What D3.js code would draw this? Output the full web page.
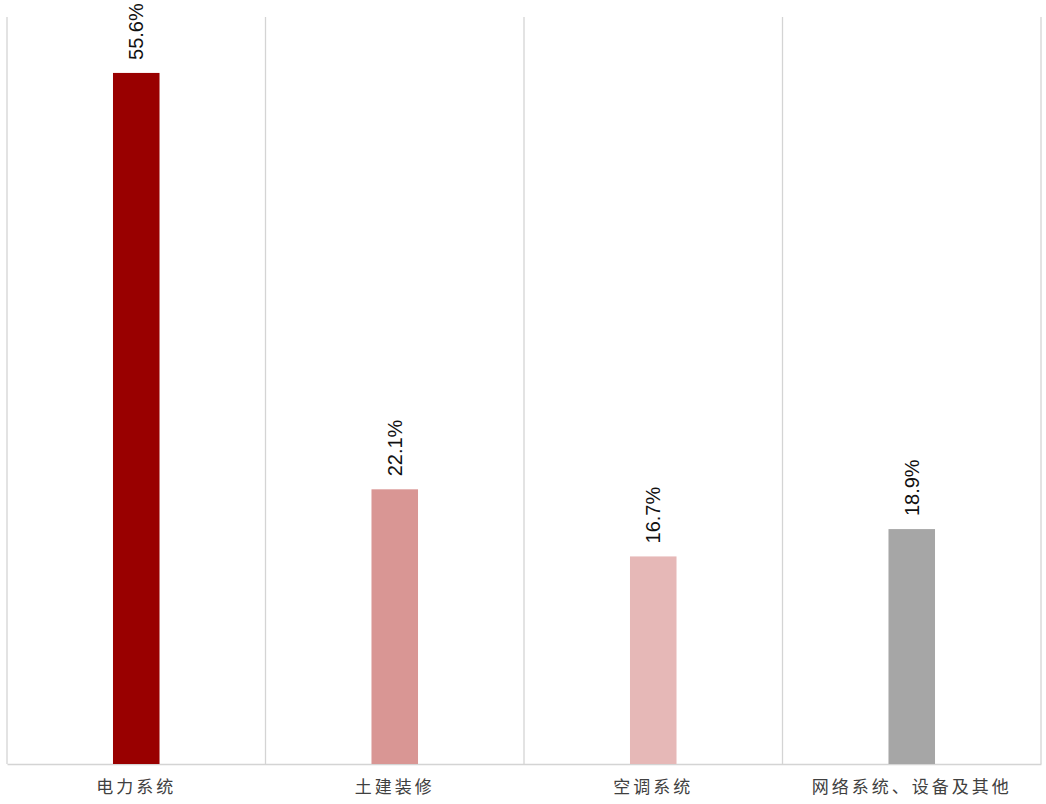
<!DOCTYPE html>
<html>
<head>
<meta charset="utf-8">
<script src="https://cdn.jsdelivr.net/npm/d3@7"></script>
<style>
  body { margin: 0; background: #fff; }
</style>
</head>
<body>
<svg id="mainsvg" width="1046" height="804"></svg>
<script>
const categories = ['电力系统', '土建装修', '空调系统', '网络系统、设备及其他'];
const values = [55.6, 22.1, 16.7, 18.9];
const colors = ['#990000', '#d99694', '#e6b8b7', '#a6a6a6'];

const data = categories.map((c, i) => ({ name: c, value: values[i], color: colors[i] }));

const svg = d3.select('#mainsvg');
const margin = { top: 17, right: 5, bottom: 40, left: 7 };
const width = +svg.attr('width');
const height = +svg.attr('height');
const innerWidth = width - margin.left - margin.right;
const innerHeight = height - margin.top - margin.bottom;

const g = svg.append('g')
  .attr('transform', `translate(${margin.left}, ${margin.top})`);

const xScale = d3.scaleBand()
  .domain(categories)
  .range([0, innerWidth])
  .paddingInner(0.82)
  .paddingOuter(0.41);

const yScale = d3.scaleLinear()
  .domain([0, 60.1])
  .range([innerHeight, 0]);

// vertical separators between categories
const step = innerWidth / categories.length;
g.selectAll('.sep')
  .data(d3.range(categories.length + 1))
  .enter().append('line')
  .attr('class', 'sep')
  .attr('x1', d => d * step)
  .attr('x2', d => d * step)
  .attr('y1', 0)
  .attr('y2', innerHeight)
  .attr('stroke', '#d4d4d4')
  .attr('stroke-width', 1.3);

// bottom axis
const xAxis = d3.axisBottom(xScale).tickSize(0).tickPadding(17);
const axisG = g.append('g')
  .attr('transform', `translate(0, ${innerHeight})`)
  .call(xAxis);
axisG.select('.domain').attr('stroke', '#d4d4d4').attr('stroke-width', 1.3);
axisG.selectAll('text')
  .attr('font-family', '"Noto Sans CJK SC", sans-serif')
  .attr('font-size', 17)
  .attr('letter-spacing', '3px')
  .attr('fill', '#404040');

// bars
g.selectAll('rect.bar')
  .data(data)
  .enter().append('rect')
  .attr('class', 'bar')
  .attr('x', d => xScale(d.name))
  .attr('y', d => yScale(d.value))
  .attr('width', xScale.bandwidth())
  .attr('height', d => innerHeight - yScale(d.value))
  .attr('fill', d => d.color);

// rotated value labels
g.selectAll('text.label')
  .data(data)
  .enter().append('text')
  .attr('class', 'label')
  .attr('transform', d => `translate(${xScale(d.name) + xScale.bandwidth() / 2 + 7}, ${yScale(d.value) - 13}) rotate(-90)`)
  .attr('text-anchor', 'start')
  .attr('font-family', '"Liberation Sans", Arial, sans-serif')
  .attr('font-size', 20)
  .attr('fill', '#111')
  .text(d => d.value.toFixed(1) + '%');
</script>
</body>
</html>
